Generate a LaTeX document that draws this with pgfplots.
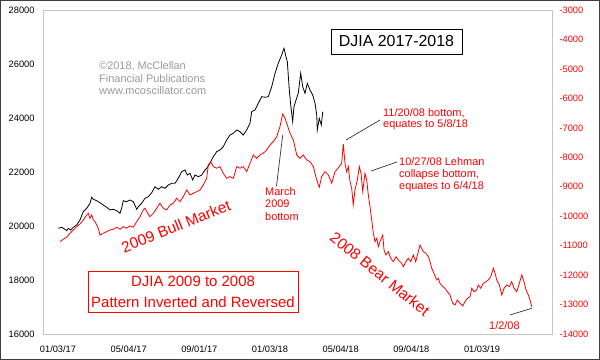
\documentclass[border=0pt]{standalone}
\usepackage{pgfplots}
\pgfplotsset{compat=1.18}
\usepackage{fontspec}
\setmainfont{Liberation Sans}
\definecolor{framegray}{HTML}{C4C4C4}
\definecolor{wm}{HTML}{9A9A9A}
\definecolor{djred}{HTML}{FF0000}
\definecolor{outer}{HTML}{404040}
\definecolor{pointer}{HTML}{333333}
\begin{document}
\begin{tikzpicture}
\useasboundingbox (0bp,0bp) rectangle (600bp,360bp);
\begin{axis}[
  at={(43bp,26bp)}, anchor=south west, scale only axis,
  width=509bp, height=324bp,
  xmin=-0.212, xmax=6.99, ymin=16000, ymax=28000,
  xtick={0,1,2,3,4,5,6},
  xticklabels={01/03/17,05/04/17,09/01/17,01/03/18,05/04/18,09/04/18,01/03/19},
  ytick={16000,18000,20000,22000,24000,26000,28000},
  yticklabels={16000,18000,20000,22000,24000,26000,28000},
  tick pos=left, major tick length=0pt,
  axis line style={framegray, line width=0.8bp},
  tick label style={font=\fontsize{9.3}{10}\selectfont, black},
  xticklabel style={yshift=-8bp},
  yticklabel style={xshift=-5bp},
  clip=false,
]
\addplot[black, line width=0.8bp] coordinates {
(0.004,19915)(0.052,19952)(0.099,19878)(0.123,19826)(0.146,19915)(0.180,19852)(0.217,19952)(0.265,20037)(0.311,20223)(0.358,20530)(0.406,20656)(0.453,20841)(0.477,21063)(0.500,20989)(0.548,20937)(0.594,20863)(0.641,20778)(0.689,20693)(0.736,20593)(0.783,20619)(0.831,20567)(0.877,20471)(0.901,20656)(0.924,20937)(0.972,20900)(1.019,20963)(1.066,20900)(1.114,20619)(1.136,20715)(1.184,20841)(1.231,21026)(1.278,21085)(1.326,21234)(1.373,21456)(1.419,21360)(1.467,21456)(1.514,21397)(1.561,21519)(1.609,21582)(1.656,21582)(1.702,21767)(1.750,22011)(1.797,22075)(1.830,21889)(1.868,21952)(1.906,21704)(1.939,21889)(1.985,21826)(2.033,21889)(2.080,22075)(2.104,22137)(2.151,22323)(2.198,22567)(2.246,22752)(2.292,22815)(2.339,22937)(2.387,23186)(2.434,23371)(2.481,23434)(2.529,23556)(2.575,23493)(2.622,23371)(2.670,23556)(2.717,23804)(2.741,24234)(2.788,24297)(2.834,24545)(2.882,24790)(2.929,24767)(2.976,24790)(3.024,25160)(3.071,25656)(3.117,26027)(3.165,26334)(3.198,26583)(3.226,26271)(3.245,26086)(3.273,25038)(3.293,24482)(3.321,23864)(3.339,24419)(3.368,24667)(3.400,24915)(3.434,25656)(3.463,25160)(3.495,24915)(3.528,25286)(3.566,25038)(3.604,24852)(3.637,24545)(3.661,24112)(3.669,23556)(3.697,23989)(3.726,23741)(3.746,24234)
};
\end{axis}
\begin{axis}[
  at={(43bp,26bp)}, anchor=south west, scale only axis,
  width=509bp, height=324bp,
  xmin=-0.212, xmax=6.99, ymin=-14000, ymax=-3000,
  axis x line=none, axis y line*=right,
  ytick={-14000,-13000,-12000,-11000,-10000,-9000,-8000,-7000,-6000,-5000,-4000,-3000},
  yticklabels={-14000,-13000,-12000,-11000,-10000,-9000,-8000,-7000,-6000,-5000,-4000,-3000},
  major tick length=0pt,
  axis line style={framegray, line width=0.8bp},
  yticklabel style={font=\fontsize{9.3}{10}\selectfont, djred, xshift=4bp},
  clip=false,
]
\addplot[djred, line width=0.8bp] coordinates {
(0.028,-10865)(0.075,-10784)(0.123,-10716)(0.170,-10580)(0.217,-10468)(0.265,-10356)(0.311,-10264)(0.358,-10129)(0.406,-9959)(0.429,-9901)(0.453,-10071)(0.477,-9959)(0.500,-10129)(0.524,-10186)(0.548,-10298)(0.570,-10410)(0.594,-10638)(0.641,-10580)(0.689,-10526)(0.736,-10468)(0.783,-10444)(0.831,-10376)(0.877,-10444)(0.924,-10356)(0.972,-10410)(1.019,-10332)(1.066,-10376)(1.114,-10186)(1.160,-10017)(1.207,-9789)(1.231,-9731)(1.255,-9847)(1.302,-10017)(1.349,-9901)(1.397,-9731)(1.443,-9561)(1.490,-9731)(1.538,-9789)(1.585,-9619)(1.632,-9561)(1.680,-9392)(1.726,-9507)(1.773,-9337)(1.821,-9110)(1.868,-9280)(1.915,-9222)(1.963,-9167)(2.009,-9110)(2.056,-8940)(2.104,-8712)(2.127,-8261)(2.161,-8149)(2.198,-8318)(2.246,-8373)(2.292,-8318)(2.339,-8543)(2.387,-8712)(2.434,-8658)(2.481,-8712)(2.529,-8318)(2.575,-8373)(2.622,-8318)(2.670,-8488)(2.717,-8203)(2.764,-7921)(2.812,-8033)(2.858,-7921)(2.905,-7863)(2.953,-7751)(3.000,-7582)(3.047,-7470)(3.095,-7300)(3.141,-6960)(3.179,-6529)(3.212,-6675)(3.245,-6902)(3.283,-7184)(3.330,-7412)(3.378,-7921)(3.424,-8033)(3.471,-7921)(3.519,-8091)(3.566,-8149)(3.613,-8318)(3.661,-8770)(3.697,-9018)(3.731,-8658)(3.778,-8488)(3.825,-8600)(3.873,-8882)(3.920,-8488)(3.966,-8363)(4.014,-8203)(4.037,-7548)(4.061,-8203)(4.085,-8498)(4.108,-8318)(4.132,-8828)(4.156,-9052)(4.178,-9619)(4.202,-9110)(4.235,-8770)(4.264,-8318)(4.288,-8543)(4.312,-9167)(4.344,-8543)(4.368,-8770)(4.391,-9280)(4.415,-9677)(4.439,-10129)(4.462,-10580)(4.486,-10865)(4.510,-10750)(4.532,-11035)(4.556,-10865)(4.595,-10638)(4.613,-11147)(4.641,-11317)(4.674,-11205)(4.708,-11429)(4.745,-11545)(4.783,-11375)(4.815,-11487)(4.863,-11599)(4.886,-11714)(4.924,-11545)(4.957,-11429)(4.991,-11545)(5.027,-11317)(5.062,-11545)(5.098,-11205)(5.122,-10978)(5.146,-11090)(5.169,-11205)(5.207,-11259)(5.240,-11375)(5.264,-11545)(5.288,-11769)(5.320,-11939)(5.359,-12166)(5.381,-12108)(5.405,-12278)(5.444,-12394)(5.476,-12448)(5.509,-12563)(5.547,-12676)(5.585,-12957)(5.618,-13015)(5.650,-12845)(5.688,-12957)(5.726,-13049)(5.759,-12903)(5.792,-12788)(5.830,-12733)(5.854,-12448)(5.886,-12563)(5.925,-12506)(5.947,-12336)(5.981,-12448)(6.018,-12278)(6.056,-12224)(6.089,-12166)(6.123,-12054)(6.160,-11769)(6.184,-11939)(6.208,-12166)(6.245,-12336)(6.279,-12676)(6.311,-12448)(6.350,-12336)(6.386,-12394)(6.420,-12224)(6.453,-12448)(6.491,-12563)(6.528,-12278)(6.562,-11996)(6.594,-12224)(6.622,-12506)(6.655,-12676)(6.679,-12845)(6.703,-13073)
};
\end{axis}
% watermark
\begin{scope}[every node/.style={anchor=base west, inner sep=0pt, text=wm, font=\fontsize{11}{12}\selectfont}]
\node at (99bp,290bp) {©2018, McClellan};
\node at (99bp,277bp) {Financial Publications};
\node at (99bp,265bp) {www.mcoscillator.com};
\end{scope}
% title box
\draw[black, line width=0.8bp] (331bp,331bp) rectangle (462bp,306bp);
\node[font=\fontsize{16}{18}\selectfont, inner sep=0pt] at (396.5bp,318.5bp) {DJIA 2017-2018};
% red box
\draw[djred, line width=0.8bp] (88bp,89bp) rectangle (298bp,48bp);
\node[font=\fontsize{15}{17}\selectfont, text=djred, inner sep=0pt] at (193bp,78.3bp) {DJIA 2009 to 2008};
\node[font=\fontsize{15}{17}\selectfont, text=djred, inner sep=0pt] at (193bp,58.3bp) {Pattern Inverted and Reversed};
% annotations
\begin{scope}[every node/.style={anchor=base west, inner sep=0pt, text=djred, font=\fontsize{11}{12}\selectfont}]
\node at (383bp,243bp) {11/20/08 bottom,};
\node at (383bp,232bp) {equates to 5/8/18};
\node at (399bp,194bp) {10/27/08 Lehman};
\node at (399bp,182bp) {collapse bottom,};
\node at (399bp,170bp) {equates to 6/4/18};
\node at (265bp,164bp) {March};
\node at (265bp,152bp) {2009};
\node at (265bp,139bp) {bottom};
\node at (489bp,31bp) {1/2/08};
\end{scope}
\draw[pointer, line width=0.7bp] (380bp,240bp) -- (346bp,220bp);
\draw[pointer, line width=0.7bp] (397bp,198bp) -- (371bp,189bp);
\draw[pointer, line width=0.7bp] (276.5bp,174bp) -- (282.7bp,225bp);
\draw[pointer, line width=0.7bp] (510bp,45bp) -- (531.7bp,51.7bp);
\node[rotate=21.7, text=djred, font=\fontsize{15.5}{17}\selectfont, inner sep=0pt] at (176bp,133.5bp) {2009 Bull Market};
\node[rotate=-39, text=djred, font=\fontsize{15.5}{17}\selectfont, inner sep=0pt] at (380bp,86bp) {2008 Bear Market};
% outer frame
\draw[outer, line width=1bp] (0.5bp,0.5bp) rectangle (599.5bp,359.5bp);
\end{tikzpicture}
\end{document}
